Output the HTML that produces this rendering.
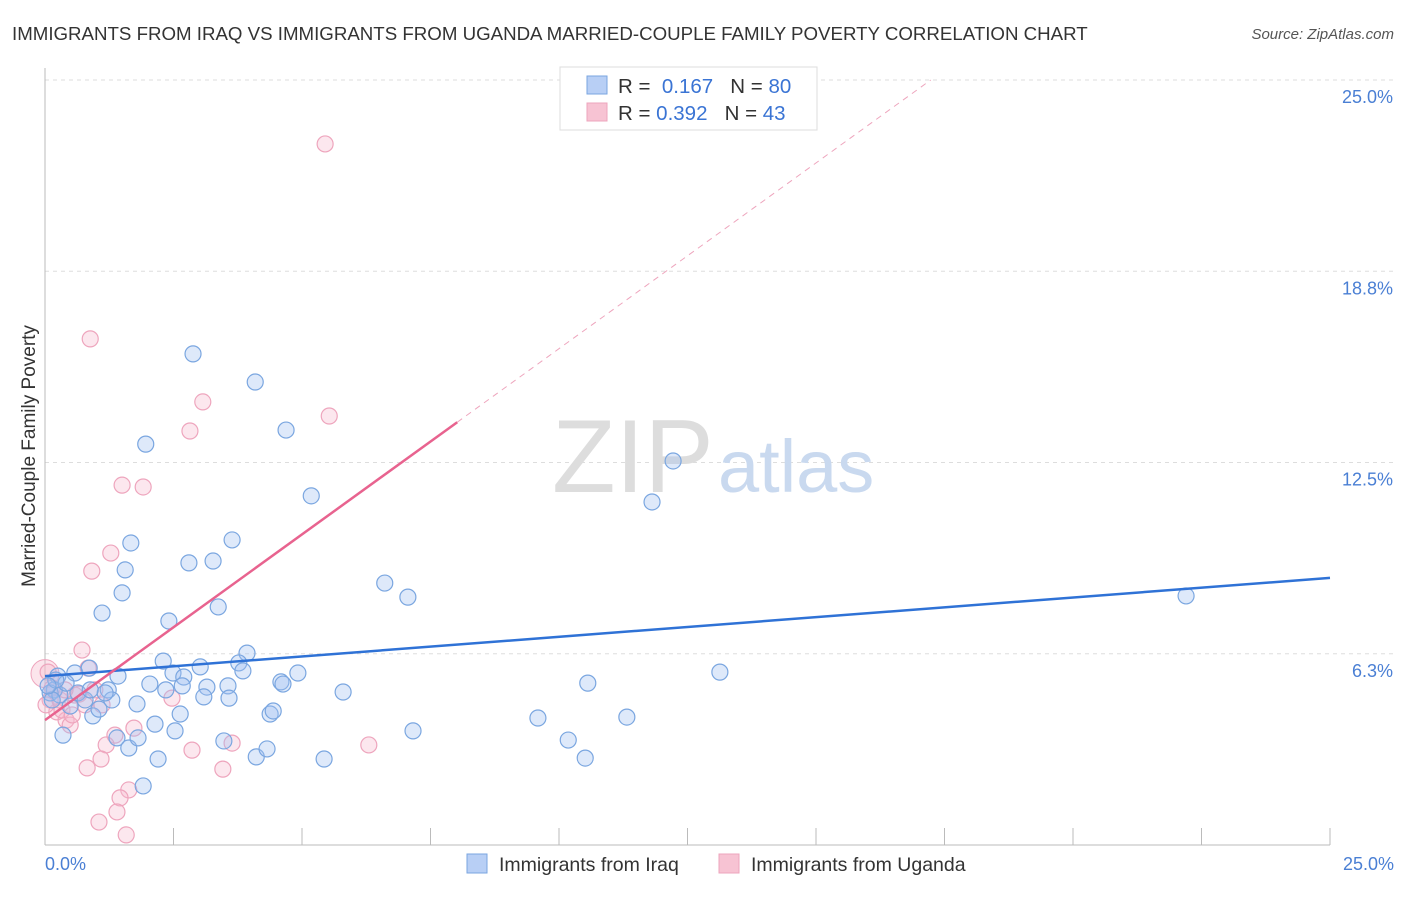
<!DOCTYPE html>
<html><head><meta charset="utf-8">
<style>
body{margin:0;background:#fff;font-family:"Liberation Sans",sans-serif;}
svg text{font-family:"Liberation Sans",sans-serif;}
</style></head>
<body>
<svg id="chart" width="1406" height="892" viewBox="0 0 1406 892" xmlns="http://www.w3.org/2000/svg">
<text x="12" y="40" font-size="18.7" fill="#333">IMMIGRANTS FROM IRAQ VS IMMIGRANTS FROM UGANDA MARRIED-COUPLE FAMILY POVERTY CORRELATION CHART</text>
<text x="1394" y="39" font-size="15" fill="#555" font-style="italic" text-anchor="end">Source: ZipAtlas.com</text>
<g id="grid"></g>
<g>
<text x="552" y="492" font-size="104" fill="#ddd" font-family="Liberation Serif,serif">ZIP</text>
<text x="718" y="492" font-size="74" fill="#c9d9ef">atlas</text>
</g>
<line x1="45" y1="845" x2="1330" y2="845" stroke="#bbb"/>
<line x1="45" y1="68" x2="45" y2="845" stroke="#bbb"/>
<g id="xticks"></g>
<g id="yticks"></g>
<text x="45" y="870" font-size="18" fill="#4a7fd4">0.0%</text>
<text x="1394" y="870" font-size="18" fill="#4a7fd4" text-anchor="end">25.0%</text>
<text transform="translate(35,456) rotate(-90)" font-size="19" fill="#333" text-anchor="middle">Married-Couple Family Poverty</text>
<g id="pts"></g>
<g id="trends"></g>
<g>
<rect x="560" y="67" width="257" height="63" fill="#fff" stroke="#ddd"/>
<rect x="587" y="76" width="20" height="18" fill="#b8cff5" stroke="#7aa6e0"/>
<rect x="587" y="103" width="20" height="18" fill="#f7c3d3" stroke="#eea5bd"/>
<text x="618" y="93" font-size="20.5" fill="#333">R = <tspan fill="#3a74d4">&#160;0.167</tspan>&#160;&#160;&#160;N = <tspan fill="#3a74d4">80</tspan></text>
<text x="618" y="120" font-size="20.5" fill="#333">R = <tspan fill="#3a74d4">0.392</tspan>&#160;&#160;&#160;N = <tspan fill="#3a74d4">43</tspan></text>
</g>
<g>
<rect x="467" y="854" width="20" height="19" fill="#b8cff5" stroke="#7aa6e0"/>
<text x="499" y="871" font-size="19.5" fill="#333">Immigrants from Iraq</text>
<rect x="719" y="854" width="20" height="19" fill="#f7c3d3" stroke="#eea5bd"/>
<text x="751" y="871" font-size="19.5" fill="#333">Immigrants from Uganda</text>
</g>
</svg>
<script>
const iraqX=[2.88,4.09,1.96,4.69,5.18,1.67,1.56,2.80,3.27,3.64,1.50,1.11,3.37,2.41,2.30,3.93,3.77,3.85,4.92,3.02,2.49,2.70,1.42,0.25,0.58,0.86,1.23,2.04,2.35,2.67,3.15,3.56,4.59,4.63,5.80,1.30,1.79,2.63,2.14,4.38,4.44,0.93,1.05,0.49,0.35,1.40,1.63,1.81,2.20,1.91,3.09,3.58,3.48,4.11,4.32,5.43,7.16,6.61,7.06,9.59,10.18,10.51,10.56,11.32,11.81,12.22,13.13,22.20,0.18,0.10,0.29,0.64,0.78,0.41,0.14,2.53,0.21,0.06,1.17,0.88];
const iraqY=[16.05,15.13,13.10,13.56,11.41,9.87,8.99,9.22,9.28,9.97,8.24,7.58,7.78,7.32,6.01,6.27,5.95,5.69,5.62,5.82,5.62,5.49,5.52,5.52,5.62,5.78,5.07,5.26,5.07,5.20,5.16,5.20,5.33,5.26,5.00,4.74,4.61,4.28,3.95,4.28,4.38,4.22,4.44,4.54,3.59,3.50,3.17,3.50,2.81,1.93,4.84,4.80,3.40,2.88,3.14,2.81,3.73,8.56,8.10,4.15,3.43,2.84,5.29,4.18,11.21,12.55,5.65,8.14,5.07,4.97,4.90,4.97,4.74,5.29,4.74,3.73,5.39,5.20,4.97,5.07];
const ugX=[5.45,0.88,3.07,2.82,5.53,1.50,1.91,1.28,0.91,0.72,0.84,0.06,0.19,0.58,1.11,0.23,0.41,0.49,0.66,2.47,1.73,1.36,1.19,1.09,0.82,2.86,3.64,3.46,6.30,1.63,1.46,1.40,1.05,1.58,0.10,0.33,0.02,0.78,0.97,0.29,0.14,0.39,0.53];
const ugY=[22.91,16.54,14.48,13.53,14.02,11.76,11.70,9.54,8.95,6.37,5.78,5.65,5.07,4.90,4.58,4.35,4.08,3.92,4.93,4.80,3.82,3.59,3.27,2.81,2.52,3.10,3.33,2.48,3.27,1.80,1.54,1.08,0.75,0.33,4.74,4.41,4.58,4.58,5.07,4.74,5.13,5.07,4.25];
const iraqTrend=[5.52,8.73];
const ugTrend=[4.08,1.214];
const yTickVals=[25.0,18.8,12.5,6.3];
const yGridVals=[25,18.75,12.5,6.25];
const NS="http://www.w3.org/2000/svg";
const X=v=>45+v/25*1285;
const Y=v=>845-v/25*765;
function mk(t,a,p){const e=document.createElementNS(NS,t);for(const k in a)e.setAttribute(k,a[k]);p.appendChild(e);return e;}
const grid=document.getElementById('grid');
yGridVals.forEach(v=>{const l=mk('line',{x1:45,x2:1394,y1:Y(v),y2:Y(v),stroke:'#ddd','stroke-dasharray':'4,4'},grid);

});
const yt=document.getElementById('yticks');
yTickVals.forEach((v,i)=>{const t=mk('text',{x:1393,y:Y(yGridVals[i])+23,'font-size':18,fill:'#4a7fd4','text-anchor':'end'},yt);t.textContent=v.toFixed(1)+'%';

});
const xt=document.getElementById('xticks');
for(let i=0;i<=10;i++){const l=mk('line',{x1:X(i*2.5),x2:X(i*2.5),y1:828,y2:845,stroke:'#bbb'},xt);

}
const pts=document.getElementById('pts');
const big=mk('circle',{cx:X(0),cy:Y(5.6),r:14,fill:'rgba(245,180,200,0.35)',stroke:'#eea5bd'},pts);


ugX.forEach((x,i)=>{const c=mk('circle',{cx:X(x),cy:Y(ugY[i]),r:8,fill:'rgba(247,185,205,0.35)',stroke:'#eea5bd','stroke-width':1.2},pts);

});
iraqX.forEach((x,i)=>{const c=mk('circle',{cx:X(x),cy:Y(iraqY[i]),r:8,fill:'rgba(160,192,240,0.35)',stroke:'#7aa6e0','stroke-width':1.2},pts);

});
const tr=document.getElementById('trends');
const bl=mk('line',{x1:X(0),y1:Y(iraqTrend[0]),x2:X(25),y2:Y(iraqTrend[1]),stroke:'#2f72d6','stroke-width':2.5},tr);


const xe=8.02, xd=(25-ugTrend[0])/ugTrend[1];
const pd=mk('line',{x1:X(xe),y1:Y(ugTrend[0]+ugTrend[1]*xe),x2:X(xd),y2:Y(25),stroke:'#eea5bd','stroke-width':1,'stroke-dasharray':'6,5'},tr);


const pl=mk('line',{x1:X(0),y1:Y(ugTrend[0]),x2:X(xe),y2:Y(ugTrend[0]+ugTrend[1]*xe),stroke:'#e8638f','stroke-width':2.5},tr);


</script>
</body></html>
